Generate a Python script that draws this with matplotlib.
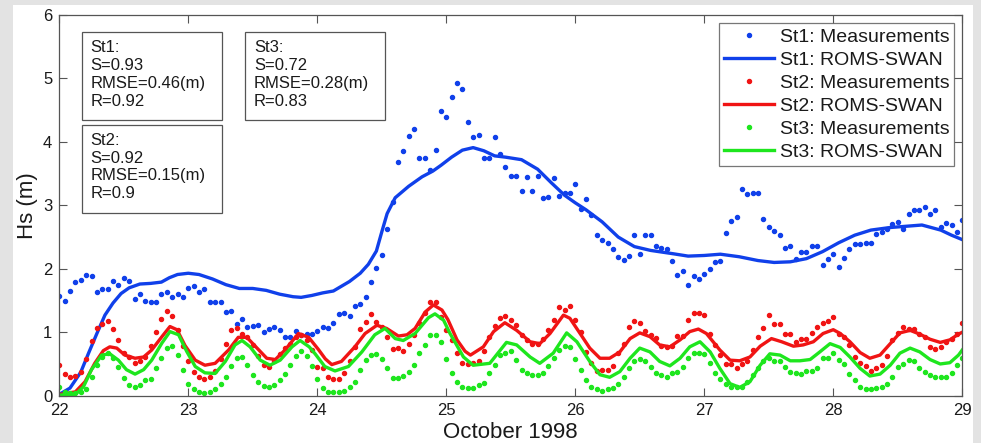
import matplotlib
matplotlib.use('Agg')
import matplotlib.pyplot as plt
from matplotlib.patches import Rectangle
import numpy as np

matplotlib.rcParams['font.family'] = ['Liberation Sans', 'DejaVu Sans']

# hourly measurements, 22 Oct 00:00 .. 29 Oct 00:00
st1_meas = [1.57, 1.49, 1.65, 1.79, 1.83, 1.91, 1.89, 1.64, 1.68, 1.68, 1.80, 1.74, 1.86, 1.81, 1.52, 1.61, 1.50, 1.48, 1.47, 1.61, 1.63, 1.55, 1.61, 1.55,
            1.70, 1.73, 1.63, 1.68, 1.48, 1.48, 1.47, 1.32, 1.34, 1.13, 1.21, 1.09, 1.10, 1.11, 1.01, 1.05, 1.09, 1.03, 0.92, 0.93, 1.02, 0.95, 0.98, 0.97,
            1.02, 1.09, 1.07, 1.14, 1.29, 1.30, 1.26, 1.42, 1.45, 1.55, 1.79, 2.02, 2.22, 2.63, 3.06, 3.68, 3.85, 4.10, 4.20, 3.74, 3.75, 3.55, 3.87, 4.48,
            4.40, 4.70, 4.93, 4.83, 4.32, 4.08, 4.11, 3.74, 3.75, 4.07, 3.81, 3.61, 3.46, 3.46, 3.23, 3.44, 3.22, 3.46, 3.11, 3.13, 3.43, 3.15, 3.19, 3.19,
            3.34, 2.95, 3.10, 2.85, 2.53, 2.46, 2.41, 2.31, 2.18, 2.14, 2.20, 2.53, 2.24, 2.54, 2.53, 2.36, 2.33, 2.31, 2.13, 1.90, 1.97, 1.75, 1.88, 1.84,
            1.92, 1.99, 2.10, 2.13, 2.56, 2.76, 2.81, 3.26, 3.18, 3.20, 3.20, 2.78, 2.66, 2.60, 2.53, 2.32, 2.36, 2.16, 2.27, 2.26, 2.36, 2.36, 2.06, 2.15,
            2.23, 2.03, 2.17, 2.31, 2.39, 2.39, 2.40, 2.41, 2.55, 2.58, 2.62, 2.71, 2.74, 2.62, 2.87, 2.92, 2.93, 2.97, 2.86, 2.92, 2.66, 2.72, 2.69, 2.58, 2.77]
st2_meas = [0.48, 0.34, 0.29, 0.31, 0.38, 0.58, 0.86, 1.07, 1.13, 1.18, 1.05, 0.88, 0.68, 0.61, 0.51, 0.54, 0.61, 0.79, 1.01, 1.21, 1.33, 1.26, 1.04, 0.78,
            0.55, 0.38, 0.30, 0.27, 0.30, 0.39, 0.58, 0.82, 1.03, 1.06, 0.98, 0.92, 0.80, 0.62, 0.48, 0.46, 0.55, 0.65, 0.75, 0.82, 0.93, 0.96, 0.88, 0.72,
            0.46, 0.43, 0.29, 0.26, 0.26, 0.35, 0.54, 0.77, 1.05, 1.16, 1.29, 1.16, 1.08, 0.92, 0.74, 0.75, 0.71, 0.82, 0.96, 1.15, 1.30, 1.47, 1.47, 1.24,
            1.03, 0.88, 0.67, 0.51, 0.50, 0.51, 0.55, 0.71, 0.92, 1.10, 1.22, 1.26, 1.19, 1.11, 0.96, 0.88, 0.81, 0.81, 0.90, 1.03, 1.20, 1.39, 1.35, 1.41,
            1.19, 1.01, 0.69, 0.52, 0.39, 0.40, 0.40, 0.47, 0.67, 0.81, 1.08, 1.17, 1.14, 1.02, 0.96, 0.91, 0.78, 0.77, 0.78, 0.94, 0.94, 1.19, 1.30, 1.31,
            1.27, 0.98, 0.80, 0.64, 0.50, 0.50, 0.44, 0.50, 0.54, 0.72, 0.93, 1.06, 1.27, 1.13, 1.13, 0.97, 0.97, 0.85, 0.89, 0.89, 0.99, 1.09, 1.14, 1.18,
            1.24, 0.98, 0.92, 0.80, 0.61, 0.52, 0.47, 0.39, 0.43, 0.48, 0.63, 0.88, 0.99, 1.09, 1.05, 1.05, 0.98, 0.93, 0.76, 0.73, 0.77, 0.85, 0.90, 0.97, 1.14]
st3_meas = [0.14, 0.06, 0.05, 0.05, 0.06, 0.10, 0.30, 0.48, 0.61, 0.67, 0.60, 0.46, 0.28, 0.17, 0.14, 0.17, 0.25, 0.26, 0.43, 0.59, 0.75, 0.78, 0.64, 0.40,
            0.19, 0.10, 0.06, 0.05, 0.06, 0.10, 0.19, 0.30, 0.47, 0.60, 0.61, 0.48, 0.32, 0.21, 0.15, 0.14, 0.17, 0.24, 0.34, 0.48, 0.62, 0.71, 0.63, 0.47,
            0.27, 0.12, 0.06, 0.06, 0.06, 0.08, 0.14, 0.22, 0.40, 0.56, 0.64, 0.66, 0.58, 0.43, 0.28, 0.28, 0.31, 0.38, 0.49, 0.67, 0.80, 0.96, 0.96, 0.85,
            0.58, 0.35, 0.22, 0.14, 0.12, 0.12, 0.17, 0.20, 0.35, 0.48, 0.64, 0.68, 0.71, 0.56, 0.40, 0.35, 0.33, 0.33, 0.35, 0.47, 0.60, 0.72, 0.78, 0.76,
            0.58, 0.40, 0.25, 0.14, 0.10, 0.08, 0.11, 0.12, 0.18, 0.29, 0.43, 0.55, 0.58, 0.54, 0.45, 0.35, 0.33, 0.29, 0.35, 0.38, 0.46, 0.60, 0.67, 0.67,
            0.65, 0.51, 0.35, 0.26, 0.18, 0.13, 0.13, 0.14, 0.22, 0.33, 0.43, 0.54, 0.59, 0.54, 0.54, 0.45, 0.38, 0.36, 0.34, 0.39, 0.39, 0.43, 0.59, 0.59,
            0.67, 0.56, 0.50, 0.34, 0.24, 0.14, 0.11, 0.10, 0.12, 0.13, 0.19, 0.29, 0.46, 0.50, 0.57, 0.55, 0.43, 0.38, 0.33, 0.30, 0.29, 0.29, 0.36, 0.48, 0.59]

# model curves (ROMS-SWAN), hours since 22 Oct 00:00
st1_mod_h = [0, 2, 4, 5.5, 7, 8.5, 10, 11.5, 13, 15, 17, 19, 20.5, 22, 24, 26, 28.5, 31, 33.5, 36, 38.5, 41, 43.5, 45, 47, 49, 51, 54, 56, 57.5,
             59, 60, 61, 62.5, 65, 67.5, 69.5, 71, 73, 75, 77, 79, 81, 83, 86, 89, 91.5, 94, 96, 98, 101, 104, 107, 110, 114, 117, 120, 123,
             126.5, 130, 133, 136, 139, 142, 145, 148, 151, 154.5, 157.5, 160.5, 164, 166, 168]
st1_mod = [0.02, 0.12, 0.37, 0.68, 0.98, 1.27, 1.46, 1.61, 1.70, 1.76, 1.77, 1.79, 1.86, 1.91, 1.93, 1.91, 1.84, 1.75, 1.69, 1.69, 1.66, 1.60, 1.56, 1.55, 1.58, 1.62, 1.65, 1.80, 1.93, 2.07,
           2.28, 2.58, 2.87, 3.12, 3.30, 3.45, 3.54, 3.63, 3.76, 3.87, 3.91, 3.86, 3.78, 3.76, 3.72, 3.57, 3.36, 3.16, 3.04, 2.93, 2.74, 2.50, 2.35, 2.29, 2.24, 2.20, 2.21, 2.23,
           2.19, 2.13, 2.10, 2.11, 2.16, 2.27, 2.41, 2.53, 2.61, 2.65, 2.67, 2.69, 2.61, 2.53, 2.46]
st2_mod_h = [0, 3, 4.8, 6.6, 8.2, 9.4, 10.7, 12.2, 14.1, 15.7, 17.2, 19.1, 20.6, 21.9, 23.4, 25.3, 27.1, 29, 31.5, 33.3, 34.9, 36.8, 38.6, 40.2,
             42, 44.5, 46.4, 48.2, 49.5, 50.7, 52.5, 55, 56.9, 59.1, 60.9, 63.1, 64.7, 66.2, 68.1, 69.6, 71.2, 72.3, 74, 75.5, 76.5, 78.9,
             80.8, 82.9, 85.1, 87.6, 89.4, 91.3, 93.8, 95, 96.9, 98.7, 100.6, 102.4, 104.3, 106.2, 108, 109.9, 111.7, 113.6, 115.5, 117.3,
             118.9, 120.4, 122.9, 124.8, 126.6, 128.5, 130.4, 132.5, 134.4, 136.6, 138.4, 140.3, 142.1, 144, 145.3, 147.1, 149, 150.8,
             152.7, 154.6, 156.4, 158.3, 160.1, 162, 163.9, 165.7, 167.3, 168]
st2_mod = [0.02, 0.06, 0.22, 0.51, 0.71, 0.77, 0.75, 0.64, 0.59, 0.61, 0.72, 0.93, 1.09, 1.04, 0.79, 0.56, 0.48, 0.51, 0.72, 0.92, 0.92, 0.75, 0.59, 0.57,
           0.72, 0.98, 0.92, 0.73, 0.58, 0.49, 0.54, 0.77, 0.98, 1.11, 1.06, 0.94, 0.96, 1.06, 1.32, 1.43, 1.35, 1.20, 0.88, 0.70, 0.64, 0.77,
           1.01, 1.15, 1.03, 0.85, 0.82, 0.98, 1.27, 1.22, 0.98, 0.75, 0.59, 0.59, 0.69, 0.90, 0.99, 0.93, 0.80, 0.77, 0.88, 1.01,
           1.05, 0.98, 0.72, 0.56, 0.55, 0.61, 0.78, 0.90, 0.85, 0.78, 0.80, 0.85, 0.98, 1.04, 0.98, 0.85, 0.68, 0.59,
           0.64, 0.82, 0.99, 1.03, 0.97, 0.89, 0.84, 0.88, 0.97, 1.00]
st3_mod_h = [0, 3, 4.5, 6, 7.9, 9.4, 11, 12.5, 14.1, 15.7, 17.2, 19.1, 20.6, 22.2, 23.7, 25.3, 27.1, 29, 30.9, 32.7, 34, 35.5, 37.4, 39.2,
             41.1, 43.3, 44.8, 46.5, 47.6, 49.4, 51.3, 53.8, 56.3, 58.7, 60.6, 62.5, 64, 66.2, 68.7, 69.9, 71.5, 72.7, 75.2, 77, 80.1,
             83.2, 85.1, 87.6, 89.4, 91.9, 94.4, 96.3, 98.7, 100.6, 102.4, 104.3, 106.2, 108, 109.9, 111.7, 113.6, 115.5, 117.3, 119.2,
             121.1, 122.9, 124.8, 126.6, 128.5, 130.4, 132.2, 134.1, 136, 137.8, 139.7, 141.5, 143.4, 145.3, 147.1, 149, 150.8, 152.7,
             154.6, 156.4, 158.3, 160.1, 162, 163.9, 165.7, 167.3, 168]
st3_mod = [0.01, 0.02, 0.14, 0.41, 0.64, 0.66, 0.56, 0.41, 0.34, 0.41, 0.56, 0.83, 1.01, 0.96, 0.70, 0.46, 0.36, 0.35, 0.54, 0.80, 0.87, 0.77, 0.56, 0.48,
           0.56, 0.77, 0.87, 0.77, 0.66, 0.46, 0.39, 0.46, 0.69, 0.96, 1.06, 0.90, 0.87, 0.98, 1.23, 1.29, 1.19, 0.98, 0.61, 0.48, 0.51,
           0.84, 0.80, 0.61, 0.51, 0.67, 0.99, 0.85, 0.54, 0.33, 0.29, 0.38, 0.59, 0.75, 0.69, 0.54, 0.47, 0.59, 0.77, 0.85,
           0.69, 0.43, 0.19, 0.13, 0.22, 0.48, 0.66, 0.64, 0.55, 0.55, 0.57, 0.69, 0.82, 0.76, 0.61, 0.43, 0.31, 0.34,
           0.48, 0.67, 0.75, 0.69, 0.57, 0.50, 0.52, 0.64, 0.72]

stats = ['St1:\nS=0.93\nRMSE=0.46(m)\nR=0.92',
         'St2:\nS=0.92\nRMSE=0.15(m)\nR=0.9',
         'St3:\nS=0.72\nRMSE=0.28(m)\nR=0.83']

BLUE = '#1040ea'
RED = '#f01414'
GREEN = '#1ee61e'

start_day = 22
hours = np.arange(len(st1_meas))
t_meas = start_day + hours / 24.0


def to_day(h):
    return start_day + np.asarray(h) / 24.0


fig = plt.figure(figsize=(9.81, 4.43), dpi=100, facecolor='#e3e3e3')
# white slide panel behind everything
fig.patches.append(Rectangle((13 / 981, 0), 960 / 981, 438 / 443, transform=fig.transFigure,
                             facecolor='white', edgecolor='none', zorder=-10))
ax = fig.add_axes([0.0604, 0.1068, 0.9205, 0.8593])
ax.set_zorder(1)

ms = 5.8
lw = 2.4
ax.plot(t_meas, st1_meas, '.', color=BLUE, ms=ms, label='St1: Measurements')
ax.plot(to_day(st1_mod_h), st1_mod, '-', color=BLUE, lw=lw, label='St1: ROMS-SWAN')
ax.plot(t_meas, st2_meas, '.', color=RED, ms=ms, label='St2: Measurements')
ax.plot(to_day(st2_mod_h), st2_mod, '-', color=RED, lw=lw, label='St2: ROMS-SWAN')
ax.plot(t_meas, st3_meas, '.', color=GREEN, ms=ms, label='St3: Measurements')
ax.plot(to_day(st3_mod_h), st3_mod, '-', color=GREEN, lw=lw, label='St3: ROMS-SWAN')

ax.set_xlim(22, 29)
ax.set_ylim(0, 6)
ax.set_xticks(range(22, 30))
ax.set_yticks(range(0, 7))
ax.tick_params(direction='in', length=6, width=0.8, top=True, right=True,
               labelsize=12, colors='#555555', labelcolor='#1a1a1a', pad=5)
for sp in ax.spines.values():
    sp.set_color('#555555')
    sp.set_linewidth(0.9)

ax.set_xlabel('October 1998', fontsize=16, color='#1a1a1a')
ax.set_ylabel('Hs (m)', fontsize=16, color='#1a1a1a')
ax.xaxis.set_label_coords(0.5, -0.068)
ax.yaxis.set_label_coords(-0.023, 0.5)

# statistics boxes
boxes = [(0.0248, 0.7242, 0.1550, 0.2304),
         (0.0248, 0.4790, 0.1550, 0.2320),
         (0.2056, 0.7242, 0.1551, 0.2304)]
for (x0, y0, w, h), txt in zip(boxes, stats):
    ax.add_patch(Rectangle((x0, y0), w, h, transform=ax.transAxes, fill=False,
                           edgecolor='#555555', lw=0.9, zorder=5))
    ax.text(x0 + 0.0100, y0 + h - 0.020, txt, transform=ax.transAxes, ha='left', va='top',
            fontsize=12, color='#1a1a1a', linespacing=1.24, zorder=6)

leg = ax.legend(loc='upper right', bbox_to_anchor=(0.9911, 0.9782), borderaxespad=0,
                fontsize=14, handlelength=2.55, handletextpad=0.3, labelspacing=0.28,
                borderpad=0.25, frameon=True, fancybox=False, numpoints=1)
leg.get_frame().set_edgecolor('#555555')
leg.get_frame().set_linewidth(0.9)
for txt in leg.get_texts():
    txt.set_color('#1a1a1a')

fig.savefig('out.png', dpi=100, facecolor=fig.get_facecolor())
